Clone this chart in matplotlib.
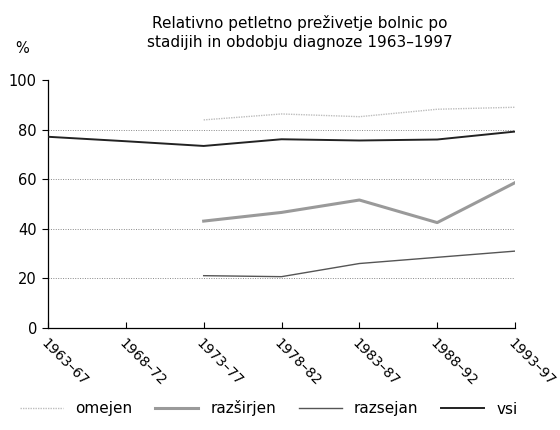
import matplotlib
matplotlib.use("Agg")
import matplotlib.pyplot as plt
import numpy as np

# === podatki ===
obdobja = ["1963–67", "1968–72", "1973–77", "1978–82", "1983–87", "1988–92", "1993–97"]
omejen = [np.nan, np.nan, 83.9, 86.3, 85.2, 88.2, 89.0]
razsirjen = [np.nan, np.nan, 43.1, 46.6, 51.6, 42.5, 58.6]
razsejan = [np.nan, np.nan, 21.1, 20.7, 26.0, 28.5, 31.0]
vsi = [77.1, 75.3, 73.4, 76.1, 75.6, 76.0, 79.2]

plt.rcParams['font.family'] = ['DejaVu Sans']

fig = plt.figure(figsize=(5.6, 4.3), dpi=100)
ax = fig.add_axes([0.0857, 0.2372, 0.834, 0.5768])

x = np.arange(len(obdobja))

# mreža
for g in [20, 40, 60, 80]:
    ax.axhline(g, color='#888888', lw=0.7, ls=(0, (1, 1.5)), zorder=1)

l1, = ax.plot(x, omejen, color='#bdbdbd', lw=1.0, ls=(0, (1, 0.8)), label='omejen', zorder=3)
l2, = ax.plot(x, razsirjen, color='#9a9a9a', lw=2.2, label='razširjen', zorder=3)
l3, = ax.plot(x, razsejan, color='#555555', lw=1.0, label='razsejan', zorder=3)
l4, = ax.plot(x, vsi, color='#222222', lw=1.4, label='vsi', zorder=3)

ax.set_xlim(0, len(obdobja) - 1)
ax.set_ylim(0, 100)
ax.set_yticks([0, 20, 40, 60, 80, 100])
ax.set_xticks(x)
ax.set_xticklabels(obdobja, rotation=-45, ha='left', va='top', rotation_mode='anchor', fontsize=10)
ax.tick_params(axis='y', direction='out', length=4, labelsize=10.5, pad=4)
ax.tick_params(axis='x', direction='in', length=4, pad=6)

for s in ['top', 'right']:
    ax.spines[s].set_visible(False)
for s in ['left', 'bottom']:
    ax.spines[s].set_linewidth(0.9)

fig.text(0.536, 0.925, "Relativno petletno preživetje bolnic po\nstadijih in obdobju diagnoze 1963–1997",
         ha='center', va='center', fontsize=11, linespacing=1.3)
fig.text(0.04, 0.888, "%", ha='center', va='center', fontsize=10.5)

fig.legend(handles=[l1, l2, l3, l4], loc='center', bbox_to_anchor=(0.48, 0.05), ncol=4,
           frameon=False, fontsize=11, handlelength=2.8, columnspacing=1.5, handletextpad=0.8)

fig.savefig("out.png", dpi=100)
